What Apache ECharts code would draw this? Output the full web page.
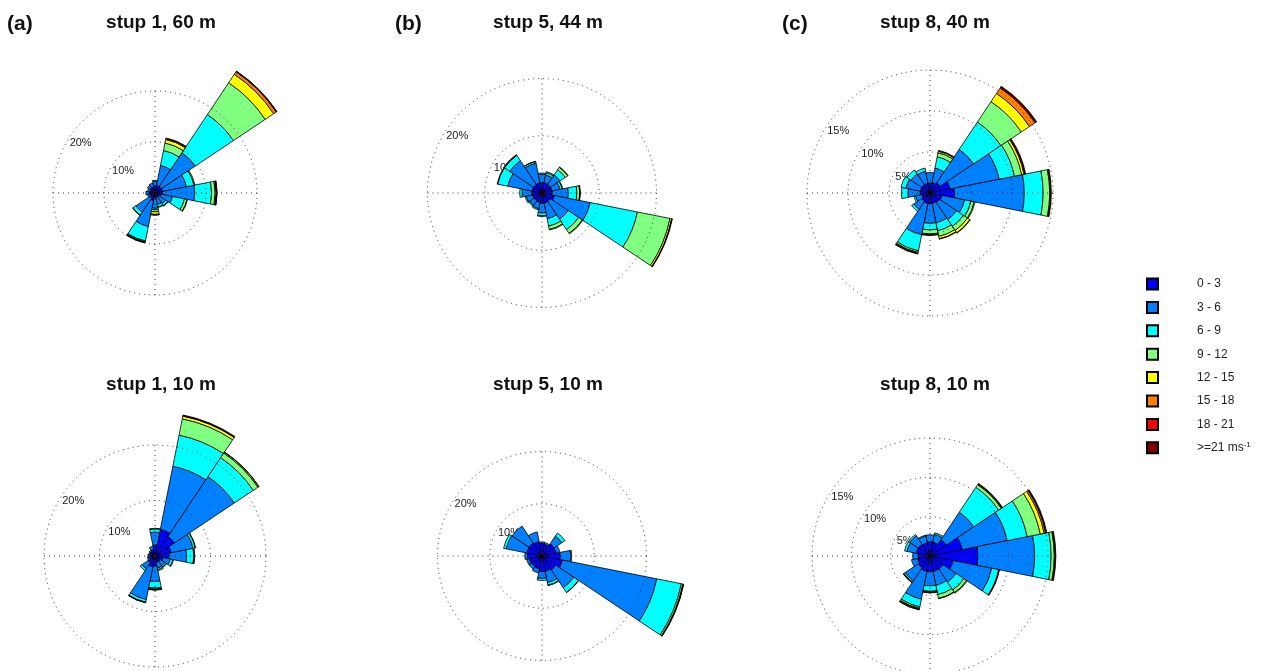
<!DOCTYPE html>
<html><head><meta charset="utf-8">
<script src="https://cdn.jsdelivr.net/npm/echarts@6/dist/echarts.min.js"></script>
<style>html,body{margin:0;padding:0;background:#fff}#c{width:1261px;height:671px}</style>
</head><body><div id="c"></div>
<script>
// ---------- data ----------
const directions = ['N','NNE','NE','ENE','E','ESE','SE','SSE','S','SSW','SW','WSW','W','WNW','NW','NNW'];
const speedBins = ['0 - 3','3 - 6','6 - 9','9 - 12','12 - 15','15 - 18','18 - 21','>=21 ms-1'];
const panelTitles = ['stup 1, 60 m','stup 5, 44 m','stup 8, 40 m','stup 1, 10 m','stup 5, 10 m','stup 8, 10 m'];
const panelLetters = ['(a)','(b)','(c)'];
const ringMax = [20, 20, 15, 20, 20, 15];
const ringStep = [10, 10, 5, 10, 10, 5];

// frequency (%) per direction (rows N..NNW) and speed class (columns 0-3 ... >=21)
const stup1_60m = [
  [1.5,0.8,0.2,0,0,0,0,0],
  [1.5,4.0,3.0,1.5,0.7,0.2,0,0.1],
  [1.5,8.0,9.0,7.5,2.0,0.6,0.1,0.05],
  [1.5,4.8,1.5,0.2,0,0,0,0],
  [1.5,6.3,3.3,0.7,0.2,0.1,0,0.1],
  [1.2,2.3,2.4,0.5,0.1,0,0,0],
  [1.0,1.5,0.5,0.1,0,0,0,0],
  [0.8,1.5,0.5,0.1,0,0,0,0],
  [1.0,2.0,0.3,0.4,0.5,0.1,0,0.05],
  [1.5,5.2,2.9,0.2,0.1,0,0,0.1],
  [1.2,3.3,0.7,0.1,0,0,0,0],
  [1.0,0.5,0,0,0,0,0,0],
  [1.2,0.6,0,0,0,0,0,0],
  [1.0,0.5,0,0,0,0,0,0],
  [1.2,0.6,0,0,0,0,0,0],
  [1.2,0.8,0,0,0,0,0,0]
];
const stup5_44m = [
  [1.8,1.5,0.2,0,0,0,0,0],
  [1.8,1.4,0.4,0.2,0,0,0,0],
  [1.8,2.0,1.1,0.5,0.1,0,0,0],
  [1.8,1.4,0.4,0.1,0,0,0,0],
  [1.8,2.8,1.5,0.5,0.05,0,0,0.05],
  [2.2,6.4,8.4,5.8,0.3,0.05,0,0.05],
  [1.8,3.7,2.2,0.8,0.1,0,0,0],
  [1.8,2.8,1.3,0.6,0.1,0,0,0],
  [1.8,1.7,0.5,0.1,0,0,0,0],
  [1.7,1.1,0.2,0,0,0,0,0],
  [1.6,1.0,0.2,0,0,0,0,0],
  [1.7,1.1,0.2,0,0,0,0,0],
  [1.8,1.7,0.4,0,0,0,0,0],
  [1.8,4.3,1.8,0.1,0,0,0,0],
  [1.8,5.0,1.1,0.1,0,0,0,0.05],
  [1.8,3.5,0.3,0.05,0,0,0,0]
];
const stup8_40m = [
  [1.2,1.3,0,0,0,0,0,0],
  [1.3,1.8,1.4,0.5,0.2,0,0,0.1],
  [1.5,4.9,4.0,3.0,1.2,0.8,0.15,0.1],
  [2.5,6.1,1.9,0.9,0.3,0.1,0,0.1],
  [3.0,8.5,2.3,0.8,0.1,0,0,0.1],
  [1.5,2.8,0.8,0.4,0.1,0,0,0],
  [1.4,2.5,1.0,0.6,0.35,0.05,0,0],
  [1.3,2.4,1.0,0.7,0.3,0.05,0,0],
  [1.3,2.4,0.8,0.5,0.1,0,0,0.1],
  [1.3,3.9,2.0,0.2,0.1,0,0,0.1],
  [1.2,1.2,0.3,0,0,0,0,0],
  [1.0,0.8,0.2,0,0,0,0,0],
  [1.2,1.5,0.8,0,0,0,0,0],
  [1.2,1.8,0.6,0,0,0,0,0],
  [1.2,1.6,0.6,0,0,0,0,0],
  [1.2,1.5,0.4,0,0,0,0,0]
];
const stup1_10m = [
  [2.0,2.3,0.6,0.1,0,0,0,0],
  [4.9,11.6,5.7,3.0,0.5,0.1,0,0.1],
  [4.2,13.0,4.1,1.0,0.2,0.05,0,0],
  [3.0,4.0,0.4,0.1,0,0,0,0],
  [2.5,3.2,1.3,0.1,0,0,0,0.05],
  [1.5,1.3,0.5,0.1,0,0,0,0],
  [1.2,0.9,0.3,0.1,0,0,0,0],
  [1.2,1.0,0.3,0.2,0,0,0,0],
  [1.8,2.8,1.2,0.2,0.1,0,0,0.05],
  [2.0,6.0,0.5,0.05,0,0,0,0.05],
  [1.5,1.3,0.4,0,0,0,0,0],
  [1.0,0.4,0,0,0,0,0,0],
  [1.0,0.3,0,0,0,0,0,0],
  [0.9,0.3,0,0,0,0,0,0],
  [1.0,0.3,0,0,0,0,0,0],
  [1.2,0.6,0,0,0,0,0,0]
];
const stup5_10m = [
  [2.4,0.3,0,0,0,0,0,0],
  [2.3,0.3,0,0,0,0,0,0],
  [2.8,1.8,0.7,0,0,0,0,0],
  [2.8,0.7,0,0,0,0,0,0],
  [3.5,2.0,0.2,0,0,0,0,0],
  [4.0,18.4,4.8,0.3,0.1,0,0,0.05],
  [3.2,4.1,1.1,0.05,0,0,0,0],
  [3.0,2.2,0.5,0.1,0,0,0,0],
  [3.0,1.3,0.4,0,0,0,0,0],
  [2.5,0.8,0,0,0,0,0,0],
  [2.4,0.6,0,0,0,0,0,0],
  [2.5,0.5,0,0,0,0,0,0],
  [2.8,0.5,0,0,0,0,0,0],
  [3.0,4.0,0.5,0,0,0,0,0],
  [3.0,3.9,0,0,0,0,0,0],
  [2.8,1.9,0,0,0,0,0,0]
];
const stup8_10m = [
  [1.8,0.9,0,0,0,0,0,0],
  [1.8,1.0,0.2,0,0,0,0,0],
  [2.5,4.2,3.8,0.4,0.1,0,0,0.1],
  [4.2,5.8,2.6,1.7,0.5,0.2,0.05,0.1],
  [6.1,7.2,2.1,0.4,0.1,0,0,0.1],
  [3.0,5.0,0.9,0.05,0,0,0,0.05],
  [2.0,2.0,1.2,0.4,0.1,0,0,0],
  [2.0,1.8,1.2,0.5,0.05,0,0,0],
  [2.0,1.8,0.7,0.1,0,0,0,0.1],
  [2.0,3.6,1.0,0.2,0.1,0,0,0.1],
  [1.8,2.0,0.2,0,0,0,0,0.1],
  [1.6,0.8,0,0,0,0,0,0],
  [1.5,0.7,0,0,0,0,0,0],
  [1.8,1.2,0.3,0,0,0,0,0],
  [1.8,1.3,0.2,0,0,0,0,0],
  [1.7,0.9,0.1,0,0,0,0,0]
];

// ---------- styles / layout ----------
const binColors = ['#0000ff','#0080ff','#00ffff','#80ff80','#ffff00','#ff8000','#ff0000','#800000'];
const FONT = 'Liberation Sans, Arial, Helvetica, sans-serif';
const layout = [
  {cx:155, cy:193, r:102},
  {cx:542, cy:193, r:114.5},
  {cx:930, cy:193, r:123},
  {cx:155, cy:556, r:111},
  {cx:542, cy:556, r:104.5},
  {cx:930, cy:556, r:118}
];
const titlePos = [[161,13],[548,13],[935,13],[161,375],[548,375],[935,375]];
const letterPos = [[7,14],[395,14],[782,14]];
const roses = [stup1_60m, stup5_44m, stup8_40m, stup1_10m, stup5_10m, stup8_10m];

const labelBearing = 303.75;            // edge between WNW and NW sectors
const firstIdx = directions.indexOf('NW');
const order = directions.map((d, j) => (j + firstIdx) % directions.length);
const cats = order.map(j => directions[j]);
const dotted = {color:'#333', width:1, type:[1,4]};

const polar = [], angleAxis = [], radiusAxis = [], series = [], title = [];
layout.forEach((L, i) => {
  const base = {center:[L.cx, L.cy], radius:[0, L.r]};
  polar.push(Object.assign({}, base), Object.assign({}, base));
  // polar for the bars (+ ring labels, drawn beneath the bars)
  angleAxis.push({polarIndex:2*i, type:'category', data:cats, startAngle:90 - labelBearing + 360,
    clockwise:true, boundaryGap:true, axisLine:{show:false}, axisTick:{show:false},
    axisLabel:{show:false}, splitLine:{show:false}, splitArea:{show:false}});
  radiusAxis.push({polarIndex:2*i, type:'value', min:0, max:ringMax[i], interval:ringStep[i],
    axisLine:{show:false}, axisTick:{show:false}, splitLine:{show:false}, splitArea:{show:false},
    axisLabel:{show:true, margin:1, align:'left', verticalAlign:'top', fontSize:11, color:'#222',
      fontFamily:FONT, formatter:v => v ? v + '%' : ''}});
  // overlay polar: dotted cross and rings, drawn above the bars
  angleAxis.push({polarIndex:2*i+1, type:'value', min:0, max:360, interval:90, startAngle:90, clockwise:true,
    z:5, axisLine:{show:false}, axisTick:{show:false}, axisLabel:{show:false},
    splitLine:{show:true, lineStyle:dotted}, splitArea:{show:false}});
  radiusAxis.push({polarIndex:2*i+1, type:'value', min:0, max:ringMax[i], interval:ringStep[i], z:5,
    axisLine:{show:false}, axisTick:{show:false}, axisLabel:{show:false},
    splitLine:{show:true, lineStyle:dotted}, splitArea:{show:false}});
  speedBins.forEach((bin, k) => {
    series.push({
      type:'bar', coordinateSystem:'polar', polarIndex:2*i, name:bin, stack:'rose' + i,
      barCategoryGap:'0%', clip:false, z:2,
      data: order.map(j => { const v = roses[i][j][k]; return v > 0 ? v : '-'; }),
      itemStyle:{color:binColors[k], borderColor:'#000', borderWidth:0.8},
      emphasis:{disabled:true}, silent:true
    });
  });
  title.push({text:panelTitles[i], left:titlePos[i][0], top:titlePos[i][1], textAlign:'center', padding:0,
    textStyle:{fontSize:19, fontWeight:'bold', color:'#111', fontFamily:FONT, lineHeight:20}});
});
panelLetters.forEach((t, i) => title.push({text:t, left:letterPos[i][0], top:letterPos[i][1], padding:0,
  textStyle:{fontSize:21, fontWeight:'bold', color:'#111', fontFamily:FONT, lineHeight:21}}));

const chart = echarts.init(document.getElementById('c'), null, {renderer:'canvas'});
chart.setOption({
  animation:false,
  backgroundColor:'#fff',
  title: title,
  polar: polar,
  angleAxis: angleAxis,
  radiusAxis: radiusAxis,
  legend:{
    data: speedBins, orient:'vertical', left:1146, top:277, padding:0, itemWidth:11, itemHeight:11, itemGap:9.4,
    icon:'rect', selectedMode:false,
    formatter: n => n.indexOf('ms-1') >= 0 ? n.replace('ms-1', 'ms{sup|-1}') : n,
    textStyle:{fontSize:12, color:'#222', fontFamily:FONT, lineHeight:14, padding:[0,0,0,34],
      rich:{sup:{fontSize:8, lineHeight:8, verticalAlign:'top', color:'#222', fontFamily:FONT}}}
  },
  series: series
});
</script></body></html>
